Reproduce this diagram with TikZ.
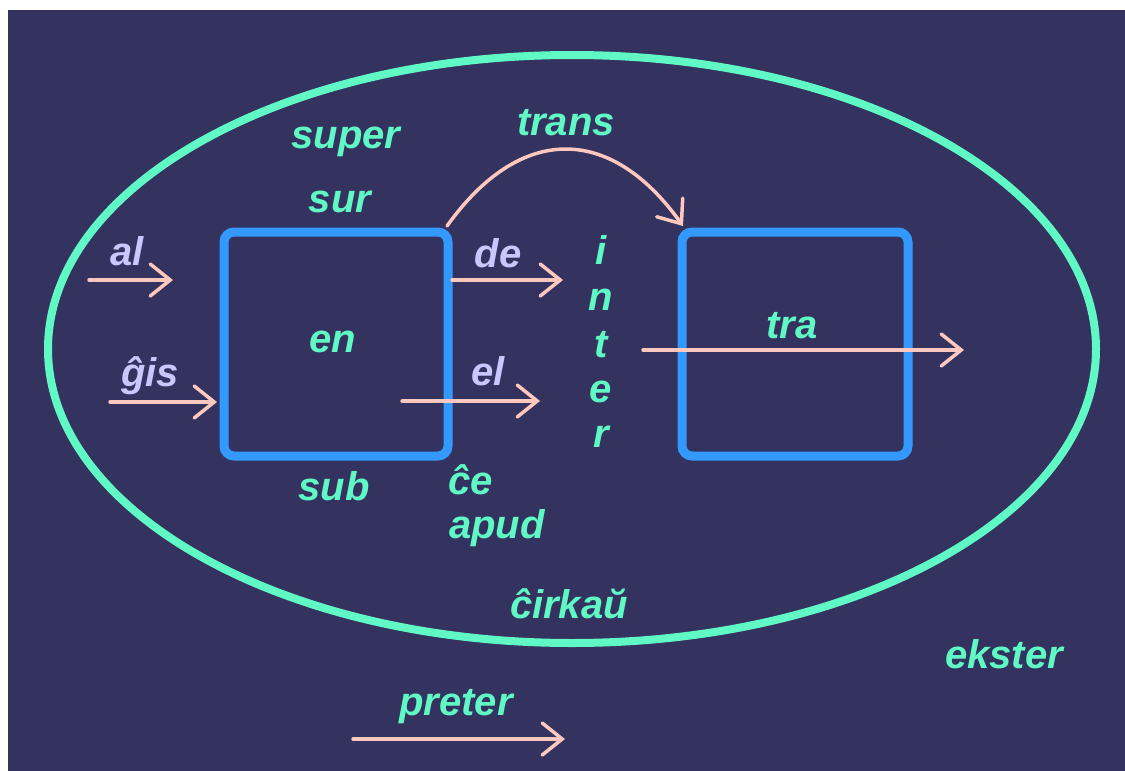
\documentclass[tikz,border=0pt]{standalone}
\usepackage{fontspec}
\setmainfont{Liberation Sans}
\usetikzlibrary{arrows.meta}
\definecolor{bg}{HTML}{34325F}
\definecolor{mint}{HTML}{60F8C4}
\definecolor{boxblue}{HTML}{3399FF}
\definecolor{pinkline}{HTML}{FFC8BE}
\definecolor{lav}{HTML}{C8C8FF}
\tikzset{
  lbl/.style={font=\fontsize{40pt}{40pt}\selectfont\bfseries\itshape, text=mint, anchor=base, inner sep=0pt},
  plbl/.style={lbl, text=lav},
  framebox/.style={draw=boxblue, line width=9pt, rounded corners=10pt, minimum height=224pt, inner sep=0pt, outer sep=0pt},
  arr/.style={draw=pinkline, line width=3.5pt, line cap=round, -{Straight Barb[length=20pt,width=32pt,line width=3.5pt,line cap=round]}}
}
\begin{document}
\begin{tikzpicture}[x=1pt,y=-1pt]
\useasboundingbox (0,0) rectangle (1125,771);
\fill[white] (0,0) rectangle (1125,771);
\fill[bg] (8,10) rectangle (1125,771);
% ellipse
\draw[mint, line width=8pt] (572,349) ellipse [x radius=524, y radius=294];
% boxes
\node[framebox, minimum width=224pt] (boxen) at (336,344) {};
\node[framebox, minimum width=226pt] (boxtra) at (795,344) {};
% labels
\node[lbl] (super) at (346,148) {super};
\node[lbl] (sur) at (340,212) {sur};
\node[lbl] (en) at (333,352) {en};
\node[lbl] (sub) at (334,500) {sub};
\node[lbl] (ce) at (471,494) {ĉe};
\node[lbl] (apud) at (497,538) {apud};
\node[lbl] (cirkau) at (569,618) {ĉirkaŭ};
\node[lbl] (ekster) at (1004,668) {ekster};
\node[lbl] (preter) at (456,715) {preter};
\node[lbl] (trans) at (566,135) {trans};
\node[lbl] (tra) at (792,338) {tra};
\node[lbl] (i1) at (601,264) {i};
\node[lbl] (i2) at (601,310) {n};
\node[lbl] (i3) at (601,357) {t};
\node[lbl] (i4) at (601,402) {e};
\node[lbl] (i5) at (601,447) {r};
\node[plbl] (al) at (127,265) {al};
\node[plbl] (gis) at (150,386) {ĝis};
\node[plbl] (de) at (498,267) {de};
\node[plbl] (el) at (488,385) {el};
% arrow end points
\coordinate (als) at (89,280);
\coordinate (ale) at (173,280);
\coordinate (giss) at (110,402);
\coordinate (gise) at (217,402);
\coordinate (des) at (452,280);
\coordinate (dee) at (563,280);
\coordinate (els) at (402,401);
\coordinate (ele) at (540,401);
\coordinate (tras) at (643,350);
\coordinate (trae) at (964,350);
\coordinate (prs) at (353,739);
\coordinate (pre) at (565,739);
\coordinate (trss) at (447,226);
\coordinate (trse) at (683,226);
% arrows
\draw[arr] (als) -- (ale);
\draw[arr] (giss) -- (gise);
\draw[arr] (des) -- (dee);
\draw[arr] (els) -- (ele);
\draw[arr] (tras) -- (trae);
\draw[arr] (prs) -- (pre);
\draw[arr] (trss) .. controls (520,124) and (610,124) .. (trse);
\end{tikzpicture}
\end{document}
